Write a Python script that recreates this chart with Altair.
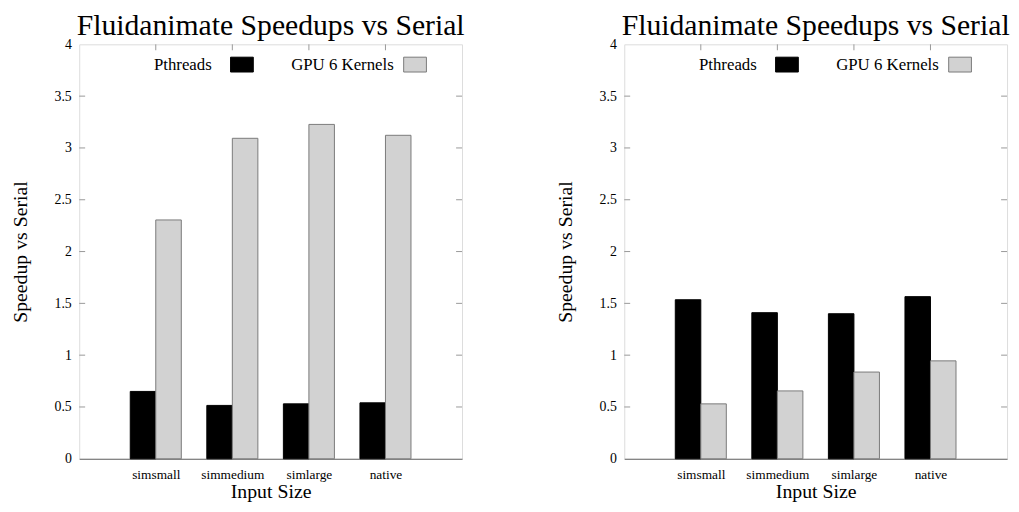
import altair as alt
import pandas as pd

categories = ["simsmall", "simmedium", "simlarge", "native"]
series_names = ["Pthreads", "GPU 6 Kernels"]
left_pthreads = [0.65, 0.515, 0.53, 0.54]
left_gpu = [2.305, 3.093, 3.227, 3.122]
right_pthreads = [1.535, 1.41, 1.40, 1.565]
right_gpu = [0.53, 0.655, 0.837, 0.945]
y_ticks = [0, 0.5, 1, 1.5, 2, 2.5, 3, 3.5, 4]
title_text = "Fluidanimate Speedups vs Serial"
x_title = "Input Size"
y_title = "Speedup vs Serial"

FONT = "Liberation Serif, Times New Roman, serif"
W, H = 387, 419
HATCH = "#d2d2d2"
HATCH_STROKE = "#7a7a7a"
BORDER = "#999999"

label_expr = "[" + ",".join("'%s'" % c for c in categories) + "][datum.value]"


def panel(pth, gpu):
    rows = []
    for i, c in enumerate(categories):
        rows.append({"idx": i, "cat": c, "series": series_names[0], "value": pth[i]})
        rows.append({"idx": i, "cat": c, "series": series_names[1], "value": gpu[i]})
    df = pd.DataFrame(rows)

    xscale = alt.Scale(domain=[-1, 4], nice=False, zero=False)
    yscale = alt.Scale(domain=[0, 4], nice=False)

    bars = alt.Chart(df).transform_calculate(
        x0="datum.idx + (datum.series == '%s' ? -1/3 : 0)" % series_names[0],
        x1="datum.idx + (datum.series == '%s' ? 0 : 1/3)" % series_names[0],
    ).mark_bar(strokeWidth=1).encode(
        x=alt.X("x0:Q", scale=xscale,
                axis=alt.Axis(values=list(range(len(categories))), labelExpr=label_expr,
                              ticks=False, grid=False, domainColor="#666666",
                              labelFont=FONT, labelFontSize=13.5, labelColor="black",
                              labelPadding=9, labelAngle=0,
                              title=x_title, titleFont=FONT, titleFontSize=20,
                              titleFontWeight="normal", titleColor="black", titlePadding=1)),
        x2="x1:Q",
        y=alt.Y("value:Q", scale=yscale,
                axis=alt.Axis(values=y_ticks, format="~g", ticks=False, grid=False,
                              domain=False, labelFont=FONT, labelFontSize=14,
                              labelColor="black", labelPadding=8,
                              title=y_title, titleFont=FONT, titleFontSize=20,
                              titleFontWeight="normal", titleColor="black", titlePadding=24)),
        y2=alt.datum(0),
        fill=alt.Fill("series:N", scale=alt.Scale(domain=series_names, range=["black", HATCH]),
                      legend=None),
        stroke=alt.Stroke("series:N", scale=alt.Scale(domain=series_names, range=["black", HATCH_STROKE]),
                          legend=None),
    )

    ydf = pd.DataFrame({"v": y_ticks[1:-1]})
    xdf = pd.DataFrame({"i": list(range(len(categories)))})
    lt = alt.Chart(ydf).mark_rule(color=BORDER).encode(
        y=alt.Y("v:Q", scale=yscale), x=alt.value(0), x2=alt.value(6))
    rt = alt.Chart(ydf).mark_rule(color=BORDER).encode(
        y=alt.Y("v:Q", scale=yscale), x=alt.value(W - 6), x2=alt.value(W))
    tt = alt.Chart(xdf).mark_rule(color=BORDER).encode(
        x=alt.X("i:Q", scale=xscale), y=alt.value(0), y2=alt.value(6))

    # legend (gnuplot style: label then swatch)
    ldf = pd.DataFrame({"series": series_names})
    t1 = alt.Chart(ldf).transform_filter(alt.datum.series == series_names[0]).mark_text(
        align="right", baseline="middle", font=FONT, fontSize=17, color="black").encode(
        text="series:N", x=alt.value(134), y=alt.value(21))
    s1 = alt.Chart(ldf).transform_filter(alt.datum.series == series_names[0]).mark_rect(
        fill="black", stroke="black").encode(
        x=alt.value(153), x2=alt.value(176), y=alt.value(13), y2=alt.value(28))
    t2 = alt.Chart(ldf).transform_filter(alt.datum.series == series_names[1]).mark_text(
        align="right", baseline="middle", font=FONT, fontSize=17, color="black").encode(
        text="series:N", x=alt.value(318), y=alt.value(21))
    s2 = alt.Chart(ldf).transform_filter(alt.datum.series == series_names[1]).mark_rect(
        fill=HATCH, stroke=HATCH_STROKE).encode(
        x=alt.value(328), x2=alt.value(351), y=alt.value(13), y2=alt.value(28))

    return alt.layer(bars, lt, rt, tt, t1, s1, t2, s2).properties(
        width=W, height=H,
        title=alt.TitleParams(title_text, font=FONT, fontSize=30, fontWeight="normal",
                              color="black", anchor="middle", offset=-4),
    )


chart = alt.hconcat(panel(left_pthreads, left_gpu), panel(right_pthreads, right_gpu),
                    spacing=90).properties(
    padding={"left": 2, "top": 0, "right": 0, "bottom": 0},
).configure_view(stroke=BORDER, strokeWidth=1).configure(background="white"
).configure_axis(labelFont=FONT, titleFont=FONT).configure_text(font=FONT)

chart.save("out.html", embed_options={"renderer": "svg", "actions": False})
